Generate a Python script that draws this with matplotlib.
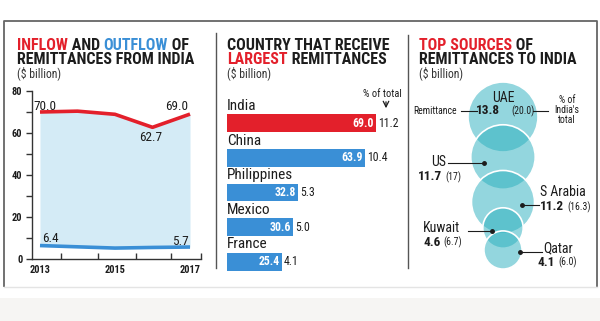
import matplotlib
matplotlib.use('Agg')
import matplotlib.pyplot as plt
import numpy as np
from matplotlib import font_manager
from matplotlib.patches import Circle, Rectangle

# pick a narrow face if there is one
names = {f.name for f in font_manager.fontManager.ttflist}
narrow = next((n for n in ['Liberation Sans Narrow', 'Roboto Condensed', 'DejaVu Sans'] if n in names), 'DejaVu Sans')
plt.rcParams['font.family'] = [narrow, 'DejaVu Sans']

# data
years = [2013, 2014, 2015, 2016, 2017]
inflow = [70.0, 70.4, 68.9, 62.7, 69.0]
outflow = [6.4, 5.8, 5.2, 5.5, 5.7]

countries = ['India', 'China', 'Philippines', 'Mexico', 'France']
received = [69.0, 63.9, 32.8, 30.6, 25.4]
pct_total = [11.2, 10.4, 5.3, 5.0, 4.1]

sources = ['UAE', 'US', 'S Arabia', 'Kuwait', 'Qatar']
source_amt = [13.8, 11.7, 11.2, 4.6, 4.1]
source_pct = ['20.0', '17', '16.3', '6.7', '6.0']

RED = '#e3202b'
BLUE = '#3a8fd6'
DARK = '#1c1c1c'

W, H = 600, 321
fig = plt.figure(figsize=(6, 3.21), dpi=100)
fig.patch.set_facecolor('white')
renderer = fig.canvas.get_renderer()


def px_axes(x, y, w, h, **kw):
    return fig.add_axes([x / W, 1 - (y + h) / H, w / W, h / H], **kw)


# overlay axes in pixel coordinates (frame, titles, bubbles)
ov = px_axes(0, 0, W, H)
ov.set_xlim(0, W)
ov.set_ylim(H, 0)
ov.axis('off')

ov.add_patch(Rectangle((0, 298), W, 23, color='#f6f5f3', lw=0))
ov.plot([4, 4, 597, 597], [286, 21, 21, 286], color='#666666', lw=1.3)
ov.plot([4, 597], [287, 287], color='#e4e4e4', lw=1)
ov.plot([216, 216], [33, 268], color='#555555', lw=1)
ov.plot([408, 408], [35, 268], color='#555555', lw=1)


def text_w(s, **kw):
    t = ov.text(0, 0, s + 'x', **kw)
    t2 = ov.text(0, 0, 'x', **kw)
    w = t.get_window_extent(renderer).width - t2.get_window_extent(renderer).width
    t.remove()
    t2.remove()
    return w


def title_line(x, y, parts, size=11.5):
    prefix = ''
    for s, c in parts:
        dx = text_w(prefix, fontsize=size, fontweight='bold') if prefix else 0
        ov.text(x + dx, y, s, color=c, fontsize=size, fontweight='bold', va='center', ha='left')
        prefix += s


title_line(17, 45, [('INFLOW', RED), (' AND ', DARK), ('OUTFLOW', BLUE), (' OF', DARK)])
title_line(17, 59, [('REMITTANCES FROM INDIA', DARK)])
ov.text(17, 73, '($ billion)', fontsize=8.5, color='#333333', va='center')

title_line(227, 45, [('COUNTRY THAT RECEIVE', DARK)])
title_line(227, 59, [('LARGEST', RED), (' REMITTANCES', DARK)])
ov.text(227, 73, '($ billion)', fontsize=8.5, color='#333333', va='center')

title_line(419, 45, [('TOP SOURCES', RED), (' OF', DARK)])
title_line(419, 59, [('REMITTANCES TO INDIA', DARK)])
ov.text(419, 73, '($ billion)', fontsize=8.5, color='#333333', va='center')

# ---- left: line chart
ax1 = px_axes(32, 91, 169, 168)
ax1.patch.set_alpha(0)
ax1.fill_between(years, outflow, inflow, color='#d4ebf6', lw=0)
ax1.plot(years, inflow, color=RED, lw=2.6, solid_capstyle='butt')
ax1.plot(years, outflow, color=BLUE, lw=2.6, solid_capstyle='butt')
ax1.set_xlim(2012.787, 2017.293)
ax1.set_ylim(0, 80)
for s in ['top', 'right']:
    ax1.spines[s].set_visible(False)
for s in ['left', 'bottom']:
    ax1.spines[s].set_color('#333333')
    ax1.spines[s].set_linewidth(1)
ax1.set_yticks([0, 20, 40, 60, 80])
ax1.set_yticks([10, 30, 50, 70], minor=True)
ax1.tick_params(axis='y', which='both', length=4, width=1, color='#333333',
                labelsize=7.5, labelcolor=DARK, pad=3)
ax1.set_xticks([2013, 2015, 2017])
ax1.set_xticks([2013.55, 2014.55, 2015.55, 2016.5, 2017.29], minor=True)
ax1.tick_params(axis='x', which='major', length=0, labelsize=7.5, labelcolor=DARK, pad=4)
ax1.tick_params(axis='x', which='minor', direction='in', length=4, width=1, color='#333333')
for lab in ax1.get_xticklabels() + ax1.get_yticklabels():
    lab.set_fontweight('bold')

lab_kw = dict(textcoords='offset pixels', ha='center', va='center', fontsize=9.5, color=DARK)
ax1.annotate(f'{inflow[0]:.1f}', (years[0], inflow[0]), xytext=(5, 6), **lab_kw)
ax1.annotate(f'{inflow[4]:.1f}', (years[4], inflow[4]), xytext=(-13, 8), **lab_kw)
ax1.annotate(f'{inflow[3]:.1f}', (years[3], inflow[3]), xytext=(-2, -10), **lab_kw)
ax1.annotate(f'{outflow[0]:.1f}', (years[0], outflow[0]), xytext=(10, 7), **lab_kw)
ax1.annotate(f'{outflow[4]:.1f}', (years[4], outflow[4]), xytext=(-10, 6), **lab_kw)

# ---- middle: bars
ax2 = px_axes(227, 106, 170, 173)
ax2.patch.set_alpha(0)
pos = np.arange(len(countries))
cols = [RED] + [BLUE] * (len(countries) - 1)
ax2.barh(pos, received, height=0.52, color=cols)
ax2.set_xlim(0, 170 / 2.16)
ax2.set_ylim(len(countries) - 0.5, -0.5)
ax2.axis('off')
for i, (c, v, p) in enumerate(zip(countries, received, pct_total)):
    ax2.text(0, i - 0.3, c, fontsize=11, color=DARK, va='bottom', ha='left')
    ax2.text(v - 0.9, i, f'{v:.1f}', fontsize=8.5, fontweight='bold', color='white',
             va='center', ha='right')
    ax2.text(v + 0.9, i, f'{p:.1f}', fontsize=8.5, color=DARK, va='center', ha='left')
ov.text(382, 94, '% of total', fontsize=7.5, color=DARK, ha='center', va='center')
ov.annotate('', xy=(386, 111), xytext=(386, 99),
            arrowprops=dict(arrowstyle='->', color=DARK, lw=0.9))

# ---- right: bubbles (area ~ value)
cx = 503
cy = [117, 157, 202, 228, 250]
r_max = 35
for v, y in zip(source_amt, cy):
    r = r_max * np.sqrt(v / max(source_amt))
    ov.add_patch(Circle((cx, y), r, facecolor=(40 / 255, 175 / 255, 190 / 255, 0.5),
                        edgecolor='white', lw=1.2))

lk = dict(color=DARK, lw=0.8)
big = dict(fontsize=9.5, fontweight='bold', color=DARK, va='center')
small = dict(fontsize=7, color=DARK, va='center')
name_kw = dict(fontsize=10, color=DARK, va='center')

# UAE
ov.text(503, 98, sources[0], ha='center', **name_kw)
ov.text(488, 111, f'{source_amt[0]}', ha='center', **big)
ov.text(511, 111, f'({source_pct[0]})', ha='left', **small)
ov.text(413, 111, 'Remittance', ha='left', **small)
ov.plot([461, 477], [111, 111], **lk)
ov.plot([533, 548], [111, 111], **lk)
ov.text(567, 110, "% of\nIndia's\ntotal", fontsize=7, color=DARK, ha='center', va='center',
        linespacing=0.95)

# US
ov.text(431, 162, sources[1], ha='left', **name_kw)
ov.plot([448, 484], [163, 163], **lk)
ov.plot([484], [163], 'o', color=DARK, ms=2.5)
ov.text(418, 177, f'{source_amt[1]}', ha='left', **big)
ov.text(418 + text_w(f'{source_amt[1]} ', fontsize=9.5, fontweight='bold'), 177,
        f'({source_pct[1]})', ha='left', **small)

# S Arabia
ov.text(540, 192, sources[2], ha='left', **name_kw)
ov.plot([522, 539], [205, 205], **lk)
ov.plot([522], [205], 'o', color=DARK, ms=2.5)
ov.text(540, 207, f'{source_amt[2]}', ha='left', **big)
ov.text(540 + text_w(f'{source_amt[2]} ', fontsize=9.5, fontweight='bold'), 207,
        f'({source_pct[2]})', ha='left', **small)

# Kuwait
ov.text(423, 228, sources[3], ha='left', **name_kw)
ov.plot([468, 492], [231, 231], **lk)
ov.plot([492], [231], 'o', color=DARK, ms=2.5)
ov.text(423, 242, f'{source_amt[3]}', ha='left', **big)
ov.text(423 + text_w(f'{source_amt[3]} ', fontsize=9.5, fontweight='bold'), 242,
        f'({source_pct[3]})', ha='left', **small)

# Qatar
ov.text(543, 248, sources[4], ha='left', **name_kw)
ov.plot([520, 542], [252, 252], **lk)
ov.plot([520], [252], 'o', color=DARK, ms=2.5)
ov.text(538, 262, f'{source_amt[4]}', ha='left', **big)
ov.text(538 + text_w(f'{source_amt[4]} ', fontsize=9.5, fontweight='bold'), 262,
        f'({source_pct[4]})', ha='left', **small)

fig.savefig('out.png', dpi=100)
